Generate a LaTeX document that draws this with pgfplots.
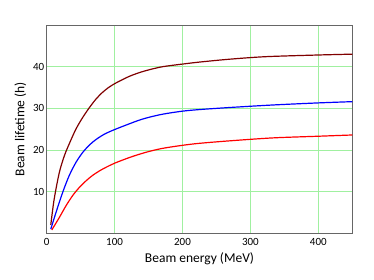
\documentclass[border=0pt]{standalone}
\usepackage{fontspec}
\setmainfont{Carlito}
\usepackage{pgfplots}
\pgfplotsset{compat=1.18}
\definecolor{gridgreen}{RGB}{160,240,160}
\definecolor{maroon}{RGB}{128,0,0}
\begin{document}
\begin{tikzpicture}
\path[use as bounding box] (-46.7pt,-46.7pt) rectangle (327.3pt,233.3pt);
\begin{axis}[
  scale only axis, width=305.6pt, height=208.3pt,
  xmin=0, xmax=450, ymin=0, ymax=50,
  xtick={0,100,200,300,400}, ytick={10,20,30,40},
  grid=major, major grid style={gridgreen, line width=0.8pt},
  axis line style={gray!80!black, line width=0.9pt},
  major tick length=0pt,
  tick label style={font=\fontsize{11}{13}\selectfont},
  /pgf/number format/assume math mode=true,
  xticklabel style={yshift=-2pt},
  yticklabel style={xshift=1pt},
  xlabel={Beam energy (MeV)}, ylabel={Beam lifetime (h)},
  label style={font=\fontsize{13.5}{16}\selectfont},
  every axis plot/.append style={line width=1.2pt, smooth, no marks},
]
\addplot[maroon] coordinates {(6,2) (11,8.2) (18.6,14.6) (26,18.6) (33,21.4) (43,25) (53,27.8) (63,30.2) (72.5,32.2) (82,33.8) (92,35.1) (101,36) (108,36.6) (122,37.7) (137,38.6) (152,39.3) (171,40) (199,40.6) (225,41.1) (270,41.8) (323,42.4) (400,42.8) (450,43)};
\addplot[blue] coordinates {(6,1) (13.7,5) (23.5,9.8) (33,13.8) (43,17) (53,19.4) (63,21.2) (72.5,22.5) (85,23.8) (100,24.9) (122,26.3) (137,27.2) (152,27.9) (171,28.6) (199,29.3) (225,29.7) (270,30.2) (333,30.8) (400,31.3) (450,31.6)};
\addplot[red] coordinates {(7.5,0.8) (18.6,3.8) (28.4,6.6) (38,9) (48,11) (58,12.6) (67.6,13.9) (80,15.2) (93,16.3) (101,16.9) (122,18.2) (137,19) (152,19.7) (171,20.4) (199,21.1) (225,21.6) (270,22.2) (333,22.9) (400,23.3) (450,23.6)};
\end{axis}
\end{tikzpicture}
\end{document}
